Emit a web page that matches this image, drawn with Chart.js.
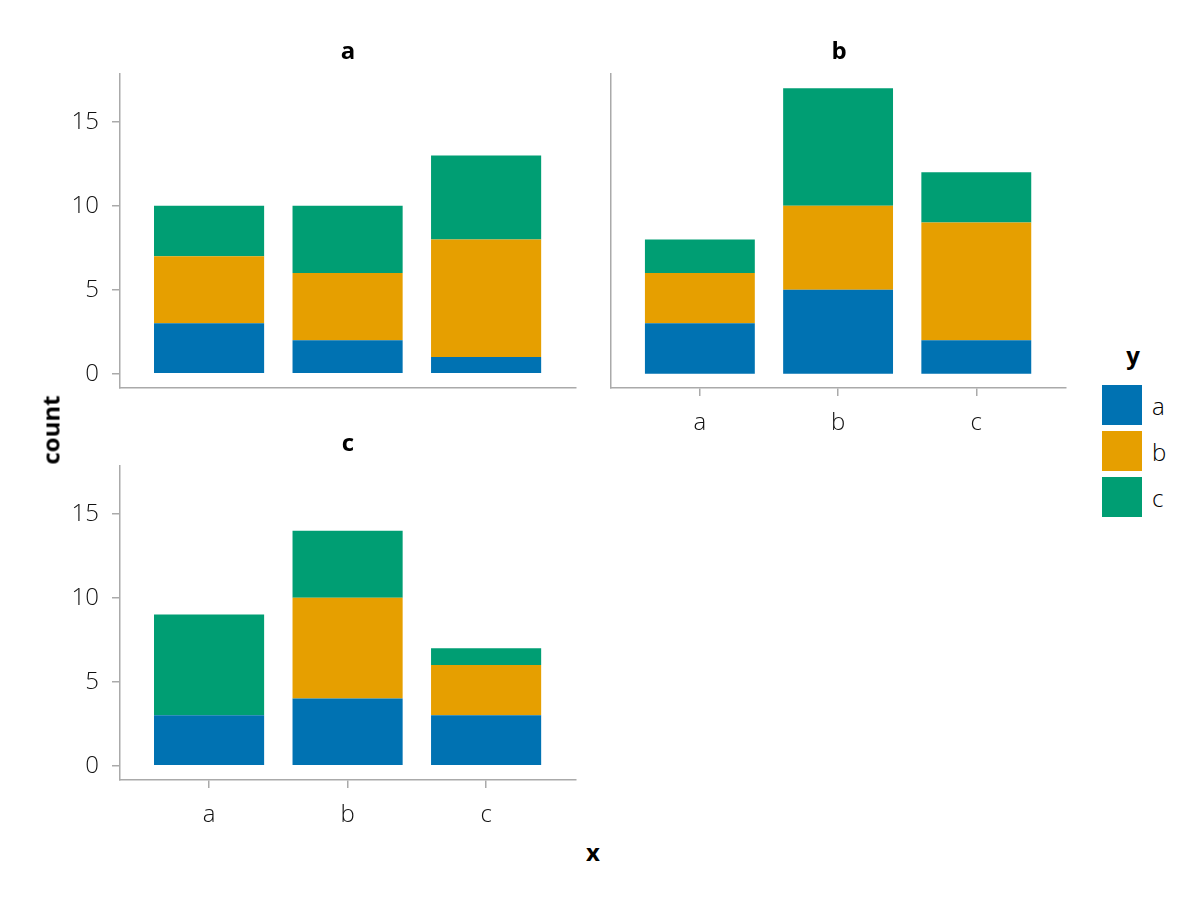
<!DOCTYPE html>
<html>
<head>
<meta charset="utf-8">
<script src="https://cdn.jsdelivr.net/npm/chart.js@4"></script>
<style>
  body { margin: 0; background: #fff; }
  #page { position: relative; width: 1200px; height: 900px; font-family: "Open Sans", sans-serif; color: #000; }
  .box { position: absolute; }
  .lbl { position: absolute; font-size: 24px; font-weight: bold; transform: translate(-50%, -50%); white-space: nowrap; }
  .sw { position: absolute; left: 1102px; width: 40px; height: 40px; }
  .lt { position: absolute; left: 1152px; font-size: 24px; font-weight: 300; transform: translateY(-50%); }
</style>
</head>
<body>
<div id="page">
  <div class="box" style="left:40px;top:64px"><canvas id="pa" width="546" height="384"></canvas></div>
  <div class="box" style="left:531px;top:64px"><canvas id="pb" width="545" height="384"></canvas></div>
  <div class="box" style="left:40px;top:456px"><canvas id="pc" width="546" height="384"></canvas></div>

  <div class="lbl" style="left:348px;top:49px">a</div>
  <div class="lbl" style="left:839px;top:49px">b</div>
  <div class="lbl" style="left:348px;top:441px">c</div>
  <div class="lbl" style="left:50px;top:430px;transform:translate(-50%,-50%) rotate(-90deg)">count</div>
  <div class="lbl" style="left:593px;top:851px">x</div>

  <div class="lbl" style="left:1133px;top:354px">y</div>
  <div id="legend"></div>
</div>
<script>
// facet panels, x categories, fill groups
const panels = ["a", "b", "c"];
const xCats = ["a", "b", "c"];
const groups = ["a", "b", "c"];
const colors = ["#0072B2", "#E69F00", "#009E73"];
const yTicks = [0, 5, 10, 15];

// counts per panel, one array per fill group (x = a, b, c)
const panelA_a = [3, 2, 1];
const panelA_b = [4, 4, 7];
const panelA_c = [3, 4, 5];
const panelB_a = [3, 5, 2];
const panelB_b = [3, 5, 7];
const panelB_c = [2, 7, 3];
const panelC_a = [3, 4, 3];
const panelC_b = [0, 6, 3];
const panelC_c = [6, 4, 1];

const counts = {
  a: [panelA_a, panelA_b, panelA_c],
  b: [panelB_a, panelB_b, panelB_c],
  c: [panelC_a, panelC_b, panelC_c],
};

const axisGrey = "#aaaaaa";
const tickFont = { family: "Open Sans", size: 24, weight: "300" };

function noPad(s) {
  s.paddingTop = 0;
  s.paddingBottom = 0;
  s.paddingLeft = 0;
  s.paddingRight = 0;
}

function makePanel(canvasId, key, showX, showY) {
  const datasets = groups.map((g, gi) => ({
    label: g,
    data: counts[key][gi].map((v, i) => ({ x: i + 1, y: v })),
    backgroundColor: colors[gi],
    borderWidth: 0,
    categoryPercentage: 1,
    barPercentage: 0.795,
  }));

  new Chart(document.getElementById(canvasId), {
    type: "bar",
    data: { datasets },
    options: {
      responsive: false,
      animation: false,
      devicePixelRatio: 1,
      layout: { padding: { top: 10, right: 10, left: 0, bottom: 0 } },
      plugins: { legend: { display: false }, tooltip: { enabled: false } },
      scales: {
        x: {
          type: "linear",
          stacked: true,
          offset: false,
          min: 0.357,
          max: 3.649,
          afterBuildTicks: (s) => { s.ticks = xCats.map((c, i) => ({ value: i + 1 })); },
          afterFit: (s) => { s.height = 60; noPad(s); },
          border: { display: true, color: axisGrey, width: 1.5 },
          grid: { display: showX, offset: false, drawOnChartArea: false, drawTicks: true, tickLength: 8, color: axisGrey, lineWidth: 1.5 },
          ticks: {
            display: showX,
            padding: 13,
            color: "#111",
            font: tickFont,
            maxRotation: 0,
            callback: (v) => xCats[v - 1],
          },
        },
        y: {
          stacked: true,
          min: -0.85,
          max: 17.85,
          afterBuildTicks: (s) => { s.ticks = yTicks.map((v) => ({ value: v })); },
          afterFit: (s) => { s.width = 80; noPad(s); },
          border: { display: true, color: axisGrey, width: 1.5 },
          grid: { display: showY, drawOnChartArea: false, drawTicks: true, tickLength: 8, color: axisGrey, lineWidth: 1.5 },
          ticks: { display: showY, padding: 13, color: "#111", font: tickFont },
        },
      },
    },
  });
}

makePanel("pa", "a", false, true);
makePanel("pb", "b", true, false);
makePanel("pc", "c", true, true);

// legend
const legend = document.getElementById("legend");
groups.forEach((g, i) => {
  const top = 385 + i * 46;
  const sw = document.createElement("div");
  sw.className = "sw";
  sw.style.top = top + "px";
  sw.style.background = colors[i];
  legend.appendChild(sw);
  const t = document.createElement("div");
  t.className = "lt";
  t.style.top = (top + 20) + "px";
  t.textContent = g;
  legend.appendChild(t);
});
</script>
</body>
</html>
